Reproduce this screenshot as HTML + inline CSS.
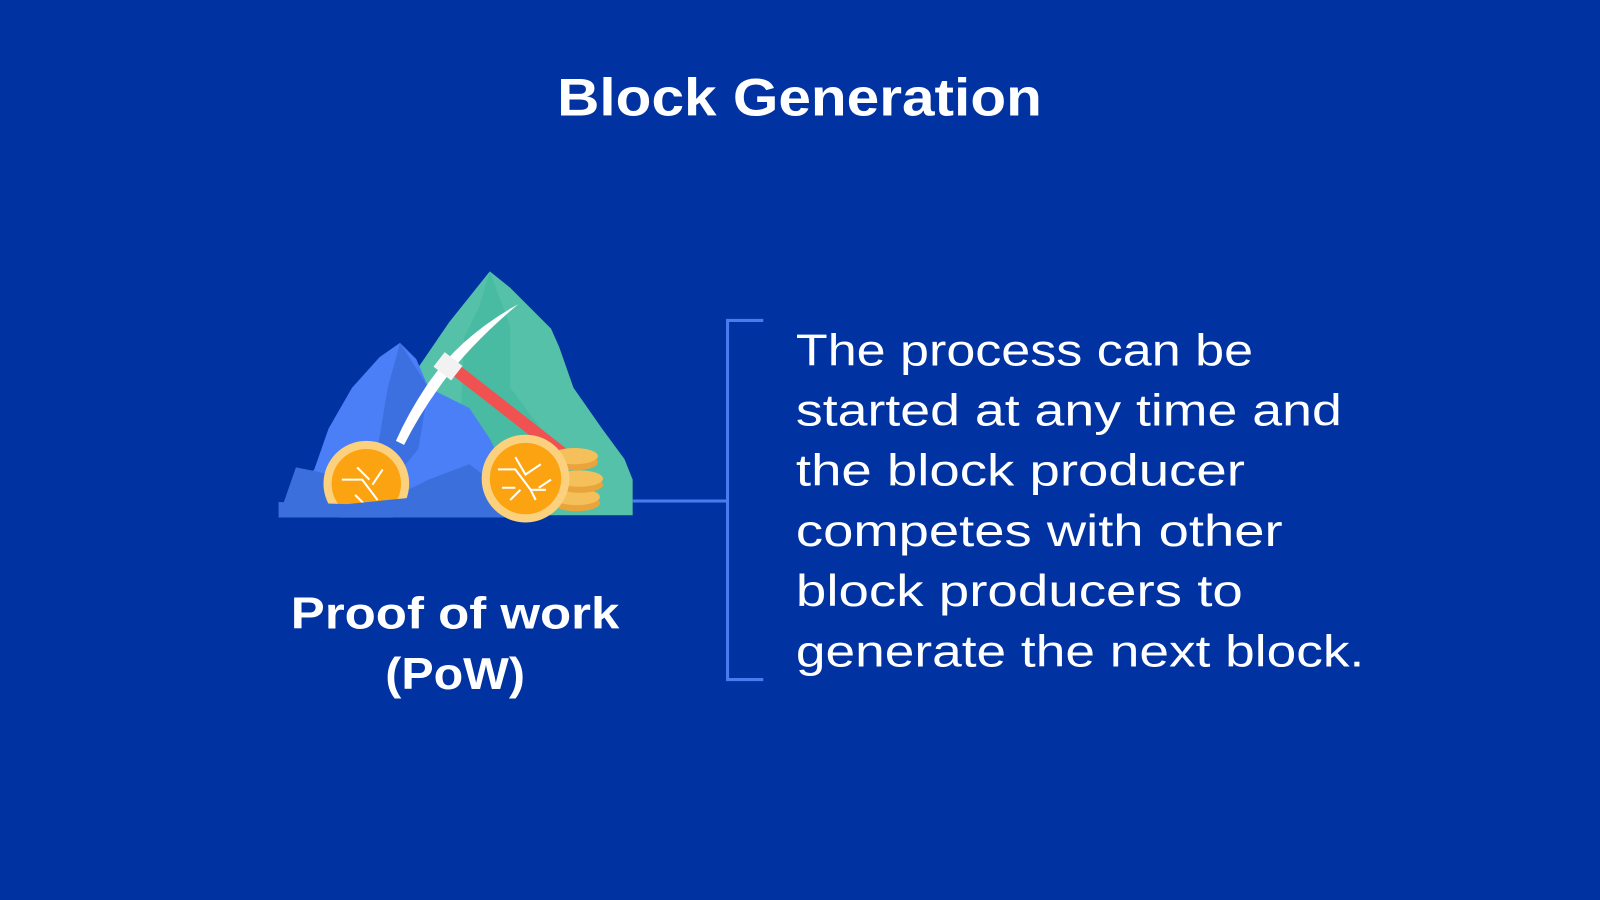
<!DOCTYPE html>
<html><head><meta charset="utf-8"><style>
html,body{margin:0;padding:0;background:#0033a1;overflow:hidden}
svg{display:block}
text{font-family:"Liberation Sans",sans-serif;fill:#fff}
</style></head><body>
<svg width="1600" height="900" viewBox="0 0 1568 882">
<defs><clipPath id="ground"><rect x="0" y="0" width="1568" height="507"/></clipPath></defs>
<rect width="1568" height="882" fill="#0033a1"/>
<text x="546" y="113" font-size="52" font-weight="bold" textLength="475" lengthAdjust="spacingAndGlyphs">Block Generation</text>

<g>
 <path d="M480,266 L500,282 L540,322 L548,340 L562,380 L590,420 L612,450 L620,470 L620,505 L400,505 L410,360 L440,316 Z" fill="#55c1a8"/>
 <path d="M480,266 L470,300 L455,330 L452,400 L470,440 L520,470 L560,460 L530,420 L500,380 L500,320 Z" fill="#45b9a0" opacity="0.8"/>
 <path d="M392,336 L408,352 L420,380 L460,400 L480,430 L500,470 L505,507 L273,507 L290,480 L308,460 L322,420 L345,380 L372,350 Z" fill="#4a7ff7"/>
 <path d="M392,336 L380,380 L370,440 L385,470 L410,440 L420,380 Z" fill="#3c70e0"/>
 <path d="M290,458 L310,462 L340,470 L380,490 L420,470 L460,455 L480,470 L495,500 L498,507 L273,507 Z" fill="#3a6fdc"/>
 <line x1="437" y1="355" x2="565" y2="455" stroke="#f05252" stroke-width="12" stroke-linecap="round"/>
 <path d="M508,298 Q450,330 418,378 Q400,405 388,432 L396,436 Q410,408 430,380 Q458,340 508,298 Z" fill="#ffffff"/>
 <rect x="428" y="350" width="22" height="18" fill="#f2f2f2" transform="rotate(38 439 359)"/>
 <g>
  <ellipse cx="565" cy="493" rx="23" ry="8" fill="#e9a53c"/><ellipse cx="565" cy="487" rx="23" ry="8" fill="#f5c05a"/>
  <ellipse cx="568" cy="475" rx="23" ry="8" fill="#e9a53c"/><ellipse cx="568" cy="469" rx="23" ry="8" fill="#f5c05a"/>
  <ellipse cx="563" cy="453" rx="23" ry="8" fill="#e9a53c"/><ellipse cx="563" cy="447" rx="23" ry="8" fill="#f5c05a"/>
 </g>
 <g clip-path="url(#ground)">
  <circle cx="359" cy="474" r="42" fill="#fbd17e"/><circle cx="359" cy="474" r="34" fill="#fca311"/>
  <path d="M335,470 L355,470 L370,490 M350,458 L362,470 M375,460 L365,475 M348,485 L358,495" stroke="#fff" stroke-width="2" fill="none"/>
 </g>
 <path d="M273,492 L340,494 L400,488 L500,500 L500,507 L273,507 Z" fill="#3a6fdc"/>
 <g>
  <circle cx="515" cy="469" r="43" fill="#fbd17e"/><circle cx="515" cy="469" r="35" fill="#fca311"/>
  <path d="M488,460 L505,460 L520,480 L535,480 M505,448 L515,465 L530,455 M492,478 L505,478 M500,490 L510,480 M525,490 L520,480 M540,470 L528,478" stroke="#fff" stroke-width="2" fill="none"/>
 </g>
</g>

<g stroke="#4a7cf0" stroke-width="3" fill="none">
 <line x1="620" y1="491" x2="713" y2="491"/>
 <path d="M748,314 L713,314 L713,666 L748,666"/>
</g>

<text x="446" y="616" font-size="44" font-weight="bold" text-anchor="middle" textLength="322" lengthAdjust="spacingAndGlyphs">Proof of work</text>
<text x="446" y="675" font-size="44" font-weight="bold" text-anchor="middle" textLength="137" lengthAdjust="spacingAndGlyphs">(PoW)</text>

<g font-size="44">
 <text x="780" y="358" textLength="448" lengthAdjust="spacingAndGlyphs">The process can be</text>
 <text x="780" y="417" textLength="535" lengthAdjust="spacingAndGlyphs">started at any time and</text>
 <text x="780" y="476" textLength="440" lengthAdjust="spacingAndGlyphs">the block producer</text>
 <text x="780" y="535" textLength="477" lengthAdjust="spacingAndGlyphs">competes with other</text>
 <text x="780" y="594" textLength="438" lengthAdjust="spacingAndGlyphs">block producers to</text>
 <text x="780" y="653" textLength="557" lengthAdjust="spacingAndGlyphs">generate the next block.</text>
</g>
</svg>
</body></html>
